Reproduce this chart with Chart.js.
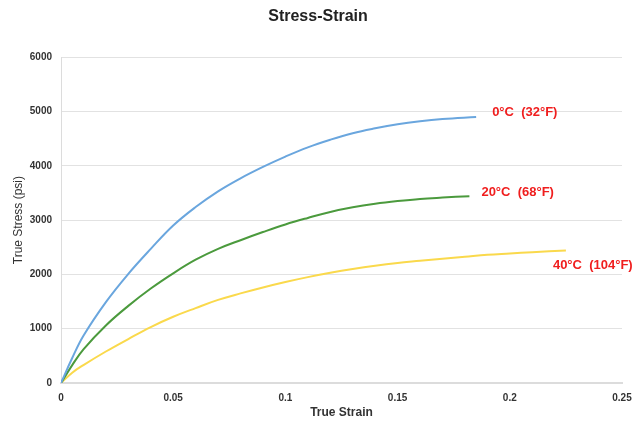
<!DOCTYPE html>
<html>
<head>
<meta charset="utf-8">
<script src="https://cdn.jsdelivr.net/npm/chart.js@4/dist/chart.umd.min.js"></script>
<style>
  html, body { margin: 0; padding: 0; background: #fff; }
  #wrap { width: 636px; height: 421px; }
</style>
</head>
<body>
<div id="wrap"><canvas id="chart"></canvas></div>
<script>
// DATA
const strain0 = [0, 0.005, 0.01, 0.02, 0.03, 0.04, 0.05, 0.06, 0.07, 0.08, 0.09, 0.1, 0.11, 0.12, 0.13, 0.14, 0.15, 0.16, 0.17, 0.185];
const stress0 = [0, 460, 870, 1490, 2010, 2470, 2900, 3240, 3530, 3770, 3980, 4170, 4340, 4480, 4600, 4690, 4765, 4820, 4860, 4900];

const strain20 = [0, 0.005, 0.01, 0.02, 0.03, 0.04, 0.05, 0.06, 0.07, 0.08, 0.09, 0.1, 0.11, 0.12, 0.13, 0.14, 0.15, 0.16, 0.17, 0.182];
const stress20 = [0, 330, 620, 1060, 1420, 1740, 2020, 2270, 2470, 2630, 2780, 2920, 3040, 3150, 3235, 3300, 3350, 3390, 3415, 3440];

const strain40 = [0, 0.005, 0.01, 0.02, 0.03, 0.04, 0.05, 0.06, 0.07, 0.08, 0.09, 0.1, 0.11, 0.12, 0.13, 0.14, 0.15, 0.16, 0.17, 0.18, 0.19, 0.2, 0.21, 0.225];
const stress40 = [0, 190, 330, 580, 810, 1030, 1220, 1380, 1530, 1650, 1760, 1860, 1950, 2030, 2100, 2160, 2210, 2250, 2290, 2325, 2360, 2385, 2410, 2440];

const seriesNames = ["0°C  (32°F)", "20°C  (68°F)", "40°C  (104°F)"];
const xTickLabels = ["0", "0.05", "0.1", "0.15", "0.2", "0.25"];
const yTickLabels = ["0", "1000", "2000", "3000", "4000", "5000", "6000"];

function toPoints(xs, ys) {
  return xs.map((x, i) => ({ x: x, y: ys[i] }));
}

// label offsets from the last point of each line (px)
const labelOffsets = [[16, -5], [12, -4], [-13, 15]];

const endLabels = {
  id: "endLabels",
  afterDatasetsDraw(chart) {
    const ctx = chart.ctx;
    ctx.save();
    ctx.fillStyle = "#f01e1e";
    ctx.font = "bold 13px 'Liberation Sans', Arial, sans-serif";
    ctx.textBaseline = "middle";
    ctx.textAlign = "left";
    chart.data.datasets.forEach((ds, i) => {
      const last = ds.data[ds.data.length - 1];
      const px = chart.scales.x.getPixelForValue(last.x);
      const py = chart.scales.y.getPixelForValue(last.y);
      ctx.fillText(seriesNames[i], px + labelOffsets[i][0], py + labelOffsets[i][1]);
    });
    ctx.restore();
  }
};

const fam = "'Liberation Sans', Arial, sans-serif";
const tickFont = { family: fam, size: 10, weight: "bold" };

new Chart(document.getElementById("chart"), {
  type: "line",
  data: {
    datasets: [
      { label: seriesNames[0], data: toPoints(strain0, stress0), borderColor: "#6aa6de" },
      { label: seriesNames[1], data: toPoints(strain20, stress20), borderColor: "#4b9a3d" },
      { label: seriesNames[2], data: toPoints(strain40, stress40), borderColor: "#fad94c" }
    ]
  },
  options: {
    responsive: true,
    maintainAspectRatio: false,
    animation: false,
    layout: { padding: { left: 14, right: 14, top: 0, bottom: 0 } },
    elements: {
      point: { radius: 0 },
      line: { borderWidth: 2, tension: 0.4 }
    },
    plugins: {
      legend: { display: false },
      tooltip: { enabled: false },
      title: {
        display: true,
        text: "Stress-Strain",
        color: "#222",
        font: { family: fam, size: 16, weight: "bold" },
        padding: { top: 7, bottom: 31 }
      }
    },
    scales: {
      x: {
        type: "linear",
        min: 0,
        max: 0.25,
        afterFit(scale) {
          scale.height = 38;
          scale.paddingLeft = 0;
          scale.paddingRight = 0;
        },
        grid: { display: false, drawTicks: false },
        border: { display: true, color: "#dcdcdc", width: 2 },
        ticks: {
          stepSize: 0.05,
          padding: 9,
          color: "#333",
          font: tickFont,
          maxRotation: 0,
          callback: (v, i) => xTickLabels[i]
        },
        title: {
          display: true,
          text: "True Strain",
          color: "#333",
          font: { family: fam, size: 12, weight: "bold" },
          padding: { top: 0, bottom: 1 }
        }
      },
      y: {
        min: 0,
        max: 6000,
        afterFit(scale) { scale.width = 47; },
        grid: { color: "#e2e2e2", lineWidth: 1, drawTicks: false },
        border: { display: true, color: "#dcdcdc", width: 1 },
        ticks: {
          stepSize: 1000,
          padding: 9,
          color: "#333",
          font: tickFont,
          callback: (v, i) => yTickLabels[i]
        },
        title: {
          display: true,
          text: "True Stress (psi)",
          color: "#333",
          font: { family: fam, size: 12 },
          padding: { top: -3, bottom: 0 }
        }
      }
    }
  },
  plugins: [endLabels]
});
</script>
</body>
</html>
